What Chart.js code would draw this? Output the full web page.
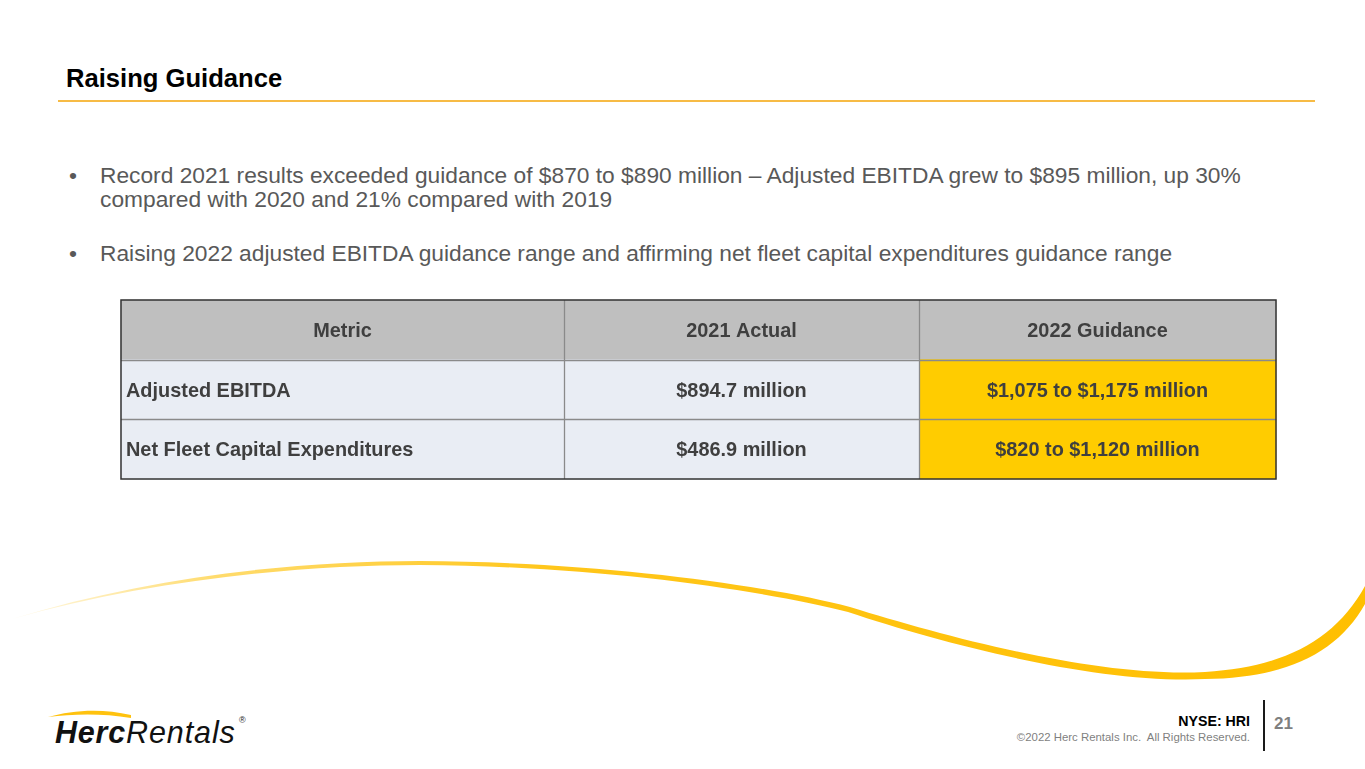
<!DOCTYPE html>
<html>
<head>
<meta charset="utf-8">
<script src="https://cdn.jsdelivr.net/npm/chart.js@4.4.1/dist/chart.umd.min.js"></script>
<style>
  html, body { margin:0; padding:0; background:#fff; }
  body { width:1365px; height:769px; overflow:hidden; position:relative; font-family:"Liberation Sans", Arial, sans-serif; }
  .abs { position:absolute; }
  #title { left:66px; top:66px; font-size:25.6px; line-height:25.6px; font-weight:bold; color:#000; white-space:nowrap; }
  #rule { left:58px; top:100px; width:1257px; height:2px; background:#f7bb45; }
  .bullet { left:100px; width:1230px; font-size:22.75px; line-height:24px; color:#595959; }
  .bullet .dot { position:absolute; left:-31px; top:0; }
  #tableWrap { left:116px; top:295px; width:1165px; height:189px; }
  #nyse { right:115px; top:714px; font-size:14.2px; line-height:14.2px; font-weight:bold; color:#000; white-space:nowrap; }
  #copy { right:115px; top:732px; font-size:11.4px; line-height:11.4px; color:#7f7f7f; white-space:nowrap; }
  #vbar { left:1263px; top:700px; width:2px; height:51px; background:#1a1a1a; }
  #page { left:1274px; top:715px; font-size:17px; line-height:17px; font-weight:bold; color:#7f7f7f; }
  #logo { left:55px; top:717px; font-size:30.5px; line-height:30.5px; white-space:nowrap; color:#111; font-style:italic; }
  #logo b { font-weight:bold; letter-spacing:0.8px; }
  #logo span { font-weight:300; letter-spacing:0.9px; }
  #reg { left:239px; top:716px; font-size:9px; line-height:9px; color:#222; }
</style>
</head>
<body>
<script>
// ---- data ----
const columnHeaders = ['Metric', '2021 Actual', '2022 Guidance'];
const metrics = ['Adjusted EBITDA', 'Net Fleet Capital Expenditures'];
const actual2021 = ['$894.7 million', '$486.9 million'];
const guidance2022 = ['$1,075 to $1,175 million', '$820 to $1,120 million'];
const rowKeys = ['header'].concat(metrics);
</script>

<svg class="abs" style="left:0;top:0" width="1365" height="769">
  <defs>
    <linearGradient id="sw" x1="0" y1="0" x2="1" y2="0">
      <stop offset="0" stop-color="#ffd24a" stop-opacity="0.15"/>
      <stop offset="0.15" stop-color="#ffcc2e" stop-opacity="0.7"/>
      <stop offset="0.4" stop-color="#ffc61a" stop-opacity="1"/>
      <stop offset="1" stop-color="#ffbf00" stop-opacity="1"/>
    </linearGradient>
  </defs>
  <path fill="url(#sw)" d="M 12 619 C 150 576, 300 561, 420 561 C 600 562, 760 584, 850 607 C 950 638, 1100 678, 1205 672 C 1285 667, 1335 640, 1365 586 L 1365 604 C 1338 652, 1288 678, 1205 679 C 1100 684, 950 646, 848 612 C 760 590, 600 566, 420 565 C 300 565, 150 580, 12 619 Z"/>
  <path fill="#ffc20e" d="M 48 717 C 72 710, 102 708, 131 715 L 131 718 C 102 713, 72 714, 48 717 Z"/>
</svg>

<div id="title" class="abs">Raising Guidance</div>
<div id="rule" class="abs"></div>

<div class="abs bullet" style="top:163px;"><span class="dot">•</span>Record 2021 results exceeded guidance of $870 to $890 million – Adjusted EBITDA grew to $895 million, up 30% compared with 2020 and 21% compared with 2019</div>
<div class="abs bullet" style="top:241px;"><span class="dot">•</span>Raising 2022 adjusted EBITDA guidance range and affirming net fleet capital expenditures guidance range</div>

<div id="tableWrap" class="abs"><canvas id="tbl"></canvas></div>

<div id="logo" class="abs"><b>Herc</b><span>Rentals</span></div>
<div id="reg" class="abs">®</div>
<div id="nyse" class="abs">NYSE: HRI</div>
<div id="copy" class="abs">©2022 Herc Rentals Inc.&nbsp; All Rights Reserved.</div>
<div id="vbar" class="abs"></div>
<div id="page" class="abs">21</div>

<script>
// ---- layout / style (not data) ----
const colEdges = [0, 443, 798, 1155];          // relative column widths
const headerFill = '#bfbfbf';
const bodyFills = ['#e9edf4', '#e9edf4', '#ffcc00'];
const textColor = '#3f3f3f';
const cellFont = 'bold 19.9px "Liberation Sans", Arial, sans-serif';

const columnValues = [metrics, actual2021, guidance2022];

const datasets = columnHeaders.map((name, c) => ({
  label: name,
  data: rowKeys.map(() => [colEdges[c], colEdges[c + 1]]),
  cellText: [name].concat(columnValues[c]),
  backgroundColor: rowKeys.map((_, r) => r === 0 ? headerFill : bodyFills[c]),
  borderWidth: 0,
  grouped: false,
  barPercentage: 1,
  categoryPercentage: 1,
  clip: false
}));

const tablePlugin = {
  id: 'tableCells',
  afterDatasetsDraw(chart) {
    const { ctx, chartArea: a, scales: { x } } = chart;
    ctx.save();
    const line = (x1, y1, x2, y2) => { ctx.beginPath(); ctx.moveTo(x1, y1); ctx.lineTo(x2, y2); ctx.stroke(); };
    ctx.strokeStyle = '#8a8a8a';
    ctx.lineWidth = 1.3;
    colEdges.slice(1, -1).forEach(v => {
      const px = Math.round(x.getPixelForValue(v)) + 0.5;
      line(px, a.top, px, a.bottom);
    });
    const meta0 = chart.getDatasetMeta(0);
    meta0.data.slice(1).forEach(el => {
      const p = el.getProps(['y', 'height'], true);
      const py = Math.round(p.y - p.height / 2) + 0.5;
      line(a.left, py, a.right, py);
    });
    ctx.font = cellFont;
    ctx.fillStyle = textColor;
    ctx.textBaseline = 'alphabetic';
    chart.data.datasets.forEach((ds, i) => {
      chart.getDatasetMeta(i).data.forEach((el, j) => {
        const p = el.getProps(['x', 'y', 'base', 'height'], true);
        const left = Math.min(p.x, p.base), right = Math.max(p.x, p.base);
        const ty = p.y + 19.9 * 0.358;
        if (i === 0 && j > 0) {
          ctx.textAlign = 'left';
          ctx.fillText(ds.cellText[j], left + 5, ty);
        } else {
          ctx.textAlign = 'center';
          ctx.fillText(ds.cellText[j], (left + right) / 2, ty);
        }
      });
    });
    ctx.strokeStyle = '#333';
    ctx.lineWidth = 1.5;
    ctx.strokeRect(a.left, a.top, a.width, a.height);
    ctx.restore();
  }
};

new Chart(document.getElementById('tbl'), {
  type: 'bar',
  data: { labels: rowKeys, datasets },
  options: {
    indexAxis: 'y',
    responsive: true,
    maintainAspectRatio: false,
    animation: false,
    layout: { padding: 5 },
    plugins: { legend: { display: false }, tooltip: { enabled: false } },
    scales: {
      x: { type: 'linear', min: colEdges[0], max: colEdges[colEdges.length - 1], display: false },
      y: { type: 'category', display: false, offset: true }
    }
  },
  plugins: [tablePlugin]
});
</script>
</body>
</html>
